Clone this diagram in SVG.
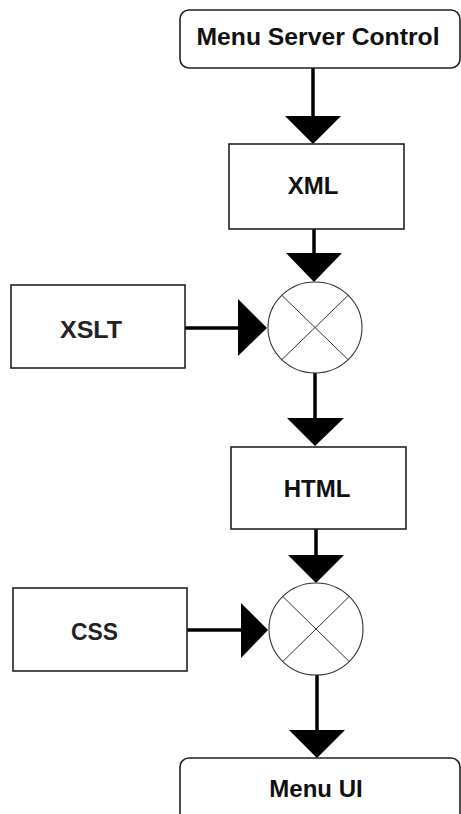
<svg xmlns="http://www.w3.org/2000/svg" width="461" height="814" viewBox="0 0 461 814">
<style>
.box{fill:#fff;stroke:#222;stroke-width:1.6}
.op{fill:#fff;stroke:#333;stroke-width:1.1}
.x{stroke:#333;stroke-width:1}
.lbl{font-family:"Liberation Sans",Arial,sans-serif;font-weight:bold;font-size:24px;fill:#111;text-anchor:middle}
.lbl2{font-family:"Liberation Sans",Arial,sans-serif;font-weight:bold;font-size:24px;fill:#222;text-anchor:middle}
.ln{stroke:#000;stroke-width:3.5;fill:none}
.ah{fill:#000}
</style>
<rect width="461" height="814" fill="#fff"/>
<g id="connectors">
<line class="ln" x1="313" y1="68" x2="313" y2="118"/>
<polygon class="ah" points="285,116 341,116 313,144"/>
<line class="ln" x1="314" y1="229" x2="314" y2="255"/>
<polygon class="ah" points="286,253 342,253 314,282"/>
<line class="ln" x1="185" y1="328" x2="240" y2="328"/>
<polygon class="ah" points="238,299 238,356 267,328"/>
<line class="ln" x1="315" y1="373" x2="315" y2="420"/>
<polygon class="ah" points="287,418 344,418 315,446"/>
<line class="ln" x1="316" y1="529" x2="316" y2="557"/>
<polygon class="ah" points="288,555 344,555 316,583"/>
<line class="ln" x1="187" y1="630" x2="243" y2="630"/>
<polygon class="ah" points="241,603 241,658 268,630"/>
<line class="ln" x1="317" y1="675" x2="317" y2="732"/>
<polygon class="ah" points="289,730 345,730 317,758"/>
</g>
<g id="menu-server-control">
<rect class="box" x="180" y="10" width="280" height="58" rx="9"/>
<text class="lbl" x="318" y="45" textLength="243" lengthAdjust="spacingAndGlyphs">Menu Server Control</text>
</g>
<g id="xml">
<rect class="box" x="229" y="144" width="175" height="85"/>
<text class="lbl" x="313" y="194">XML</text>
</g>
<g id="xslt">
<rect class="box" x="11" y="285" width="174" height="83"/>
<text class="lbl2" x="91" y="338" textLength="62" lengthAdjust="spacingAndGlyphs">XSLT</text>
</g>
<g id="merge1">
<ellipse class="op" cx="315" cy="327.5" rx="47" ry="45.5"/>
<line class="x" x1="281.8" y1="295.3" x2="348.2" y2="359.7"/>
<line class="x" x1="348.2" y1="295.3" x2="281.8" y2="359.7"/>
</g>
<g id="html">
<rect class="box" x="231" y="447" width="175" height="82"/>
<text class="lbl" x="317" y="497">HTML</text>
</g>
<g id="css">
<rect class="box" x="13" y="588" width="174" height="83"/>
<text class="lbl2" x="94.5" y="640" textLength="47" lengthAdjust="spacingAndGlyphs">CSS</text>
</g>
<g id="merge2">
<ellipse class="op" cx="316" cy="629" rx="47" ry="46"/>
<line class="x" x1="282.8" y1="596.5" x2="349.2" y2="661.5"/>
<line class="x" x1="349.2" y1="596.5" x2="282.8" y2="661.5"/>
</g>
<g id="menu-ui">
<rect class="box" x="180" y="758" width="280" height="64" rx="9"/>
<text class="lbl" x="316" y="797">Menu UI</text>
</g>
</svg>
